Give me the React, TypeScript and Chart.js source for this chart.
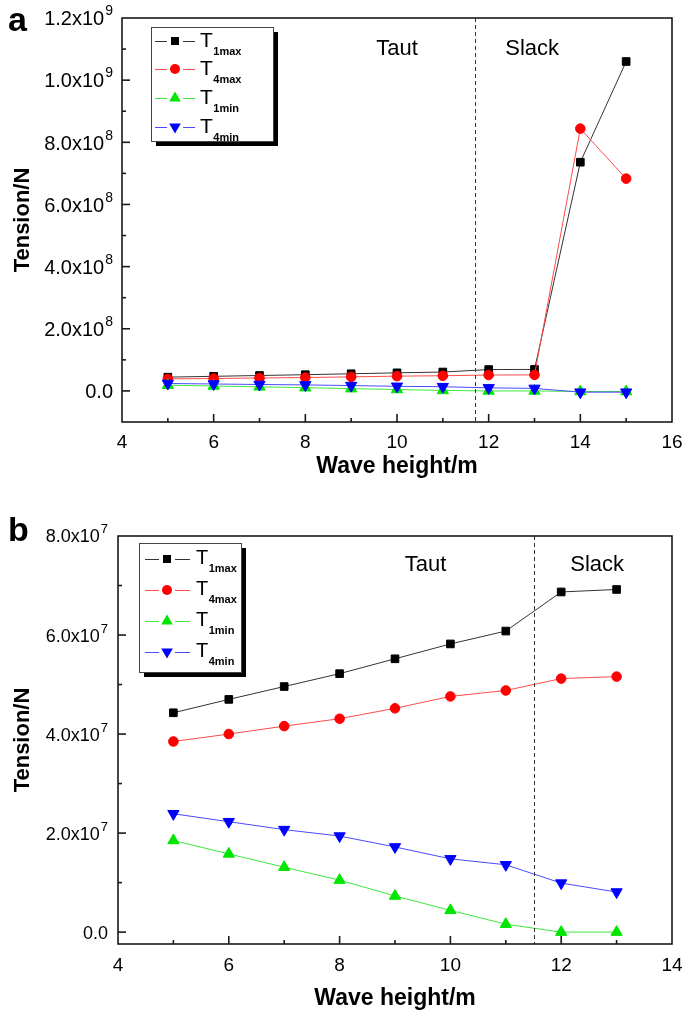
import React, { useEffect, useRef } from 'react';
import { Chart, registerables } from 'chart.js';

Chart.register(...registerables);

const FONT = '"Liberation Sans", Arial, Helvetica, sans-serif';

// ---------- Panel a data ----------
const waveA = [5, 6, 7, 8, 9, 10, 11, 12, 13, 14, 15];
const t1maxA = [4.43e7, 4.70e7, 4.96e7, 5.22e7, 5.52e7, 5.82e7, 6.08e7, 6.87e7, 6.92e7, 7.36e8, 1.06e9];
const t4maxA = [3.85e7, 4.00e7, 4.16e7, 4.31e7, 4.52e7, 4.76e7, 4.88e7, 5.12e7, 5.16e7, 8.44e8, 6.83e8];
const t1minA = [1.85e7, 1.58e7, 1.31e7, 1.05e7, 0.73e7, 0.44e7, 0.16e7, 0, 0, -2e6, -2e6];
const t4minA = [2.39e7, 2.23e7, 2.07e7, 1.94e7, 1.72e7, 1.48e7, 1.36e7, 0.99e7, 0.81e7, -4e6, -4e6];

// ---------- Panel b data ----------
const waveB = [5, 6, 7, 8, 9, 10, 11, 12, 13];
const t1maxB = [4.43e7, 4.70e7, 4.96e7, 5.22e7, 5.52e7, 5.82e7, 6.08e7, 6.87e7, 6.92e7];
const t4maxB = [3.85e7, 4.00e7, 4.16e7, 4.31e7, 4.52e7, 4.76e7, 4.88e7, 5.12e7, 5.16e7];
const t1minB = [1.85e7, 1.58e7, 1.31e7, 1.05e7, 0.73e7, 0.44e7, 0.16e7, 0, 0];
const t4minB = [2.39e7, 2.23e7, 2.07e7, 1.94e7, 1.72e7, 1.48e7, 1.36e7, 0.99e7, 0.81e7];

// ---------- Tick labels ----------
const xTickValsA = [4, 6, 8, 10, 12, 14, 16];
const xTickLabelsA = ['4', '6', '8', '10', '12', '14', '16'];
const yTickValsA = [0, 2e8, 4e8, 6e8, 8e8, 1e9, 1.2e9];
const yTickLabelsA = ['0.0', '2.0x10⁸', '4.0x10⁸', '6.0x10⁸', '8.0x10⁸', '1.0x10⁹', '1.2x10⁹'];

const xTickValsB = [4, 6, 8, 10, 12, 14];
const xTickLabelsB = ['4', '6', '8', '10', '12', '14'];
const yTickValsB = [0, 2e7, 4e7, 6e7, 8e7];
const yTickLabelsB = ['0.0', '2.0x10⁷', '4.0x10⁷', '6.0x10⁷', '8.0x10⁷'];

// ---------- Series meta ----------
const seriesSub = ['1max', '4max', '1min', '4min'];
const seriesLine = ['#333333', '#ff4a4a', '#3ee83e', '#4a4aff'];
const seriesFill = ['#000000', '#ff0000', '#00e600', '#0000ff'];
const seriesShape = ['rect', 'circle', 'up', 'down'];

const regionLabels = ['Taut', 'Slack'];
const regionXA = [10.0, 12.95];
const regionYA = 1.1e9;
const regionXB = [9.55, 12.65];
const regionYB = 7.42e7;
const boundaryA = 11.7;
const boundaryB = 11.5;

const SUP = '⁰¹²³⁴⁵⁶⁷⁸⁹';

function drawMarker(ctx: CanvasRenderingContext2D, shape: string, x: number, y: number, color: string) {
  ctx.fillStyle = color;
  ctx.beginPath();
  if (shape === 'rect') {
    ctx.rect(x - 4, y - 4, 8, 8);
  } else if (shape === 'circle') {
    ctx.arc(x, y, 5, 0, Math.PI * 2);
  } else if (shape === 'up') {
    ctx.moveTo(x, y - 6.5);
    ctx.lineTo(x + 5.8, y + 3.5);
    ctx.lineTo(x - 5.8, y + 3.5);
    ctx.closePath();
  } else {
    ctx.moveTo(x, y + 6.5);
    ctx.lineTo(x + 5.8, y - 3.5);
    ctx.lineTo(x - 5.8, y - 3.5);
    ctx.closePath();
  }
  ctx.fill();
}

type PanelCfg = {
  top: number;
  letter: string;
  letterY: number;
  waves: number[];
  series: number[][];
  xMin: number;
  xMax: number;
  yMin: number;
  yMax: number;
  yStep: number;
  xTickVals: number[];
  xTickLabels: string[];
  yTickVals: number[];
  yTickLabels: string[];
  yFont: number;
  yLabelGap: number;
  yAxisWidth: number;
  xAxisHeight: number;
  xLabelPad: number;
  padTop: number;
  padBottom: number;
  boundary: number;
  regionX: number[];
  regionY: number;
  legend: { x: number; y: number; w: number; h: number; rows: number[]; l0: number; l1: number; mx: number; tx: number; tSize: number; tBase: number; subBase: number; subSize: number };
};

function buildConfig(cfg: PanelCfg): any {
  const deco = {
    id: 'deco' + cfg.letter,
    afterDraw(chart: any) {
      const ctx: CanvasRenderingContext2D = chart.ctx;
      const { left, right, top, bottom } = chart.chartArea;
      const xs = chart.scales.x;
      const ys = chart.scales.y;
      ctx.save();
      // dashed boundary
      const bx = xs.getPixelForValue(cfg.boundary);
      ctx.strokeStyle = '#333';
      ctx.lineWidth = 1;
      ctx.setLineDash([4, 3]);
      ctx.beginPath();
      ctx.moveTo(Math.round(bx) + 0.5, top);
      ctx.lineTo(Math.round(bx) + 0.5, bottom);
      ctx.stroke();
      ctx.setLineDash([]);
      // frame
      ctx.strokeStyle = '#1a1a1a';
      ctx.lineWidth = 1.6;
      ctx.strokeRect(left, top, right - left, bottom - top);
      // ticks (inward)
      xs.ticks.forEach((t: any) => {
        const v = t.value;
        if (v <= cfg.xMin + 1e-6 || v >= cfg.xMax - 1e-6) return;
        const major = cfg.xTickVals.some((m) => Math.abs(m - v) < 1e-6);
        const px = xs.getPixelForValue(v);
        ctx.beginPath();
        ctx.moveTo(px, bottom);
        ctx.lineTo(px, bottom - (major ? 8 : 4));
        ctx.stroke();
      });
      ys.ticks.forEach((t: any) => {
        const v = t.value;
        if (v <= cfg.yMin + 1 || v >= cfg.yMax - 1) return;
        const major = cfg.yTickVals.some((m) => Math.abs(m - v) < 1);
        const py = ys.getPixelForValue(v);
        ctx.beginPath();
        ctx.moveTo(left, py);
        ctx.lineTo(left + (major ? 8 : 4), py);
        ctx.stroke();
      });
      // y tick labels with superscript exponent
      ctx.fillStyle = '#000';
      cfg.yTickVals.forEach((v, i) => {
        const lab = cfg.yTickLabels[i];
        let base = '';
        let sup = '';
        for (const ch of lab) {
          const k = SUP.indexOf(ch);
          if (k >= 0) sup += String(k);
          else base += ch;
        }
        const py = ys.getPixelForValue(v);
        const f = cfg.yFont;
        const sf = Math.round(f * 0.72);
        ctx.font = `${f}px ${FONT}`;
        const bw = ctx.measureText(base).width;
        ctx.font = `${sf}px ${FONT}`;
        const sw = sup ? ctx.measureText(sup).width + 1 : 0;
        const xEnd = left - cfg.yLabelGap;
        const x0 = xEnd - bw - sw;
        ctx.textAlign = 'left';
        ctx.textBaseline = 'alphabetic';
        ctx.font = `${f}px ${FONT}`;
        const baseY = py + f * 0.36;
        ctx.fillText(base, x0, baseY);
        if (sup) {
          ctx.font = `${sf}px ${FONT}`;
          ctx.fillText(sup, x0 + bw + 1, baseY - f * 0.5);
        }
      });
      // region labels
      ctx.fillStyle = '#000';
      ctx.font = `22px ${FONT}`;
      ctx.textAlign = 'center';
      ctx.textBaseline = 'middle';
      regionLabels.forEach((lab, i) => {
        ctx.fillText(lab, xs.getPixelForValue(cfg.regionX[i]), ys.getPixelForValue(cfg.regionY));
      });
      // legend
      const L = cfg.legend;
      ctx.fillStyle = '#000';
      ctx.fillRect(L.x + 5, L.y + 5, L.w, L.h);
      ctx.fillStyle = '#fff';
      ctx.fillRect(L.x, L.y, L.w, L.h);
      ctx.strokeStyle = '#444';
      ctx.lineWidth = 1;
      ctx.strokeRect(L.x + 0.5, L.y + 0.5, L.w, L.h);
      seriesSub.forEach((sub, i) => {
        const ry = L.rows[i];
        ctx.strokeStyle = seriesLine[i];
        ctx.lineWidth = 1;
        ctx.beginPath();
        ctx.moveTo(L.l0, ry + 0.5);
        ctx.lineTo(L.mx - 8, ry + 0.5);
        ctx.moveTo(L.mx + 8, ry + 0.5);
        ctx.lineTo(L.l1, ry + 0.5);
        ctx.stroke();
        drawMarker(ctx, seriesShape[i], L.mx, ry, seriesFill[i]);
        ctx.fillStyle = '#000';
        ctx.textAlign = 'left';
        ctx.textBaseline = 'alphabetic';
        ctx.font = `${L.tSize}px ${FONT}`;
        ctx.fillText('T', L.tx, ry + L.tBase);
        const tw = ctx.measureText('T').width;
        ctx.font = `bold ${L.subSize}px ${FONT}`;
        ctx.fillText(sub, L.tx + tw + 0.5, ry + L.subBase);
      });
      // panel letter
      ctx.fillStyle = '#000';
      ctx.font = `bold 34px ${FONT}`;
      ctx.textAlign = 'left';
      ctx.textBaseline = 'alphabetic';
      ctx.fillText(cfg.letter, 8, cfg.letterY);
      ctx.restore();
    },
  };

  const datasets = cfg.series.map((vals, i) => ({
    label: 'T' + seriesSub[i],
    data: cfg.waves.map((w, j) => ({ x: w, y: vals[j] })),
    borderColor: seriesLine[i],
    borderWidth: 1,
    backgroundColor: seriesFill[i],
    pointBackgroundColor: seriesFill[i],
    pointBorderColor: seriesFill[i],
    pointBorderWidth: 1,
    pointStyle: seriesShape[i] === 'rect' ? 'rect' : seriesShape[i] === 'circle' ? 'circle' : 'triangle',
    pointRotation: seriesShape[i] === 'down' ? 180 : 0,
    pointRadius: seriesShape[i] === 'rect' ? 5.4 : seriesShape[i] === 'circle' ? 4.8 : 6.5,
    tension: 0,
    fill: false,
    order: 4 - i,
    clip: false,
  }));

  return {
    type: 'line',
    data: { datasets },
    plugins: [deco],
    options: {
      animation: false,
      responsive: false,
      maintainAspectRatio: false,
      devicePixelRatio: 1,
      layout: { padding: { left: 0, right: 10, top: cfg.padTop, bottom: cfg.padBottom } },
      plugins: { legend: { display: false }, tooltip: { enabled: false } },
      scales: {
        x: {
          type: 'linear',
          min: cfg.xMin,
          max: cfg.xMax,
          grid: { display: false },
          border: { display: false },
          ticks: {
            stepSize: 1,
            autoSkip: false,
            maxRotation: 0,
            padding: cfg.xLabelPad,
            color: '#000',
            font: { family: FONT, size: 19 },
            callback: (v: number) => {
              const idx = cfg.xTickVals.findIndex((m) => Math.abs(m - v) < 1e-6);
              return idx >= 0 ? cfg.xTickLabels[idx] : '';
            },
          },
          title: {
            display: true,
            text: 'Wave height/m',
            color: '#000',
            font: { family: FONT, size: 23, weight: 'bold' },
            padding: { top: 0, bottom: 0 },
          },
          afterFit: (s: any) => {
            s.height = cfg.xAxisHeight;
            s.paddingLeft = 0;
            s.paddingRight = 0;
          },
        },
        y: {
          type: 'linear',
          min: cfg.yMin,
          max: cfg.yMax,
          grid: { display: false },
          border: { display: false },
          afterBuildTicks: (s: any) => {
            const arr: any[] = [];
            for (let k = Math.ceil(cfg.yMin / cfg.yStep - 1e-9); k * cfg.yStep <= cfg.yMax + 1; k++) {
              arr.push({ value: k * cfg.yStep });
            }
            s.ticks = arr;
          },
          ticks: {
            display: false,
            autoSkip: false,
          },
          title: {
            display: true,
            text: 'Tension/N',
            color: '#000',
            font: { family: FONT, size: 22, weight: 'bold' },
            padding: { top: 10, bottom: 0 },
          },
          afterFit: (s: any) => {
            s.width = cfg.yAxisWidth;
            s.paddingTop = 0;
            s.paddingBottom = 0;
          },
        },
      },
    },
  };
}

const panelA: PanelCfg = {
  top: 0,
  letter: 'a',
  letterY: 31,
  waves: waveA,
  series: [t1maxA, t4maxA, t1minA, t4minA],
  xMin: 4,
  xMax: 16,
  yMin: -1e8,
  yMax: 1.2e9,
  yStep: 1e8,
  xTickVals: xTickValsA,
  xTickLabels: xTickLabelsA,
  yTickVals: yTickValsA,
  yTickLabels: yTickLabelsA,
  yFont: 20,
  yLabelGap: 9,
  yAxisWidth: 122,
  xAxisHeight: 58,
  xLabelPad: 1,
  padTop: 18,
  padBottom: 26,
  boundary: boundaryA,
  regionX: regionXA,
  regionY: regionYA,
  legend: { x: 151, y: 27, w: 122, h: 114, rows: [41, 69, 98, 127], l0: 155, l1: 195, mx: 175, tx: 200, tSize: 21, tBase: 6, subBase: 14, subSize: 11 },
};

const panelB: PanelCfg = {
  top: 506,
  letter: 'b',
  letterY: 35,
  waves: waveB,
  series: [t1maxB, t4maxB, t1minB, t4minB],
  xMin: 4,
  xMax: 14,
  yMin: -2.4e6,
  yMax: 8e7,
  yStep: 1e7,
  xTickVals: xTickValsB,
  xTickLabels: xTickLabelsB,
  yTickVals: yTickValsB,
  yTickLabels: yTickLabelsB,
  yFont: 18,
  yLabelGap: 10,
  yAxisWidth: 118,
  xAxisHeight: 68,
  xLabelPad: 2,
  padTop: 30,
  padBottom: 0,
  boundary: boundaryB,
  regionX: regionXB,
  regionY: regionYB,
  legend: { x: 139, y: 37, w: 102, h: 129, rows: [53, 84, 115, 146], l0: 145, l1: 190, mx: 167, tx: 196, tSize: 20, tBase: 5, subBase: 13, subSize: 11 },
};

function Panel({ cfg }: { cfg: PanelCfg }) {
  const ref = useRef<HTMLCanvasElement>(null);
  useEffect(() => {
    if (!ref.current) return;
    const chart = new Chart(ref.current, buildConfig(cfg));
    return () => chart.destroy();
  }, [cfg]);
  return (
    <canvas
      ref={ref}
      width={682}
      height={506}
      style={{ position: 'absolute', left: 0, top: cfg.top, width: 682, height: 506, display: 'block' }}
    />
  );
}

export default function App() {
  return (
    <div style={{ position: 'absolute', left: 0, top: 0, width: 682, height: 1012, background: '#fff' }}>
      <Panel cfg={panelA} />
      <Panel cfg={panelB} />
    </div>
  );
}
